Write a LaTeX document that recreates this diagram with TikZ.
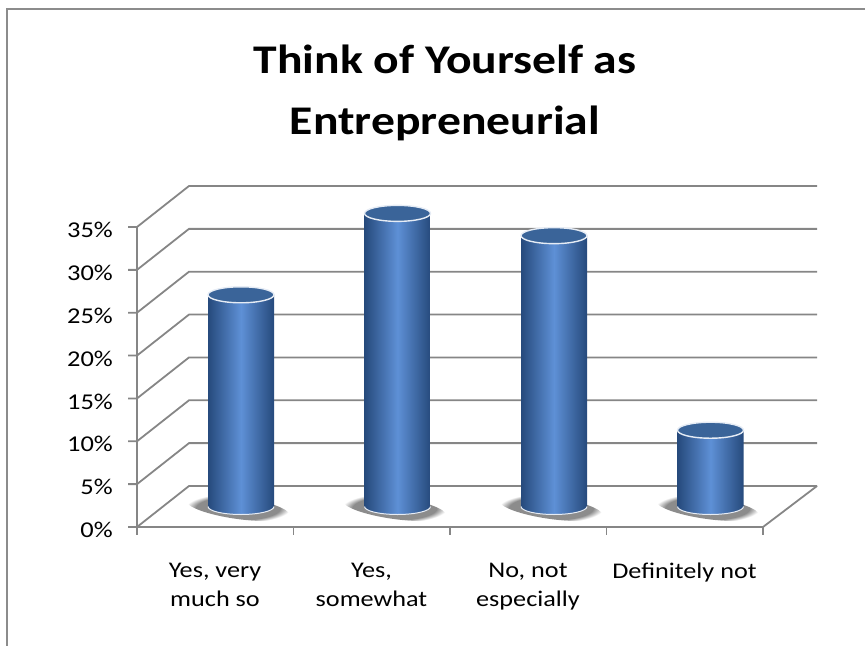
\documentclass[tikz,border=0pt]{standalone}
\usepackage{fontspec}
\setmainfont{Carlito}[FakeStretch=1.17]
\usepackage[rgb]{xcolor}
\usepackage{tikz}
\usetikzlibrary{fadings}

\definecolor{gridgray}{RGB}{134,134,134}
\definecolor{framegray}{RGB}{140,140,140}
\definecolor{cyldark}{RGB}{38,74,124}
\definecolor{cyllight}{RGB}{94,144,214}
\definecolor{cyltop}{RGB}{58,100,153}
\definecolor{cylrim}{RGB}{230,236,245}

\tikzset{
	gridline/.style={draw=gridgray, line width=1.8bp},
	axislabel/.style={font=\fontsize{22.6bp}{29bp}\selectfont, inner sep=0pt},
	catlabel/.style={font=\fontsize{22.4bp}{29bp}\selectfont, inner sep=0pt, align=center, anchor=north},
	titletext/.style={font=\fontsize{40.7bp}{61bp}\selectfont\bfseries, inner sep=0pt, align=center, anchor=north}
}

\begin{document}
\begin{tikzpicture}[x=1bp,y=-1bp]
	\useasboundingbox (0,0) rectangle (865,646);
	\draw [framegray, line width=2bp] (6.5,646) -- (6.5,9.5) -- (865,9.5);

	\node (title) at (445,45) [titletext] {Think of Yourself as\\Entrepreneurial};

	% walls, grid and value axis
	\foreach \k in {0,...,7} {
		\pgfmathsetmacro\yk{527-42.857*\k}
		\pgfmathtruncatemacro\pct{5*\k}
		\draw [gridline] (128,\yk) -- (137,\yk) -- (189,\yk-41) -- (817,\yk-41);
		\node (val\k) at (113,\yk+3) [axislabel, anchor=east] {\pct\%};
	}
	\draw [gridline] (137,227) -- (137,527) -- (763,527) -- (817,486);
	\foreach \x in {137,293.5,450,606.5,763}
		\draw [gridline] (\x,527) -- (\x,535);

	% cylinders
	\foreach \cx/\v in {241/24.7, 397.5/34.2, 554/31.6, 710.5/8.9} {
		\pgfmathsetmacro\yt{506.5-8.571*\v}
		\fill [black, opacity=0.45, path fading=circle with fuzzy edge 20 percent, rotate around={-8:(\cx-3,508)}]
			(\cx-3,508) ellipse [x radius=52, y radius=11];
		\shade [left color=cyldark, right color=cyldark, middle color=cyllight]
			(\cx-33,\yt) -- (\cx-33,506.5) arc [start angle=180, end angle=0, x radius=33, y radius=8] -- (\cx+33,\yt) -- cycle;
		\draw [cylrim, line width=1bp]
			(\cx-33,506.5) arc [start angle=180, end angle=0, x radius=33, y radius=8];
		\fill [cyltop] (\cx,\yt) ellipse [x radius=33, y radius=8];
		\draw [cylrim, line width=1.4bp] (\cx,\yt) ellipse [x radius=33, y radius=8];
	}

	\node (cat1) at (215,563) [catlabel] {Yes, very\\much so};
	\node (cat2) at (371.5,563) [catlabel] {Yes,\\somewhat};
	\node (cat3) at (528,563) [catlabel] {No, not\\especially};
	\node (cat4) at (684.5,563) [catlabel] {Definitely not};
\end{tikzpicture}
\end{document}
